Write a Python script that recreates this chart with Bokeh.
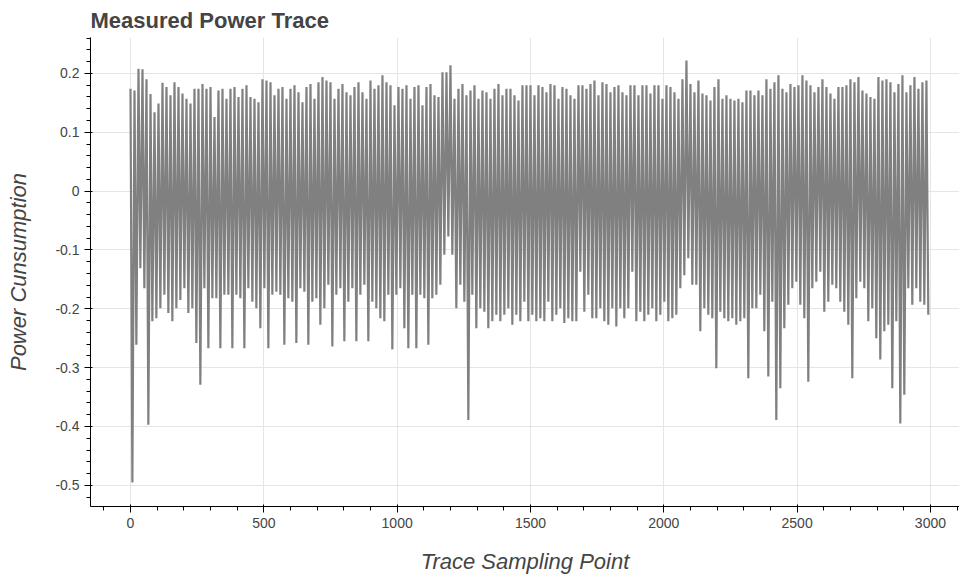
import numpy as np
from bokeh.plotting import figure
from bokeh.models import Range1d, NumeralTickFormatter
from bokeh.embed import file_html
from bokeh.resources import INLINE

# Envelope of the measured trace, read per block of 15 sampling points
block_size = 15
block_high = [
    0.174, 0.171, 0.208, 0.207, 0.190, 0.165, 0.134, 0.149, 0.184, 0.177,
    0.163, 0.185, 0.177, 0.166, 0.157, 0.149, 0.174, 0.174, 0.182, 0.174,
    0.177, 0.126, 0.171, 0.174, 0.157, 0.174, 0.177, 0.160, 0.174, 0.180,
    0.160, 0.157, 0.151, 0.190,
    0.188, 0.185, 0.163, 0.174, 0.177, 0.157, 0.174, 0.180, 0.168, 0.151,
    0.177, 0.182, 0.157, 0.185, 0.194, 0.188, 0.185, 0.157, 0.174, 0.182,
    0.168, 0.163, 0.177, 0.185, 0.168, 0.157, 0.188, 0.174, 0.180, 0.197,
    0.185, 0.180, 0.146, 0.177, 0.174,
    0.180, 0.157, 0.177, 0.180, 0.146, 0.177, 0.182, 0.163, 0.160, 0.202,
    0.202, 0.214, 0.157, 0.174, 0.182, 0.163, 0.171, 0.180, 0.157, 0.171,
    0.168, 0.157, 0.174, 0.182, 0.163, 0.174, 0.174, 0.163, 0.154, 0.180,
    0.180, 0.180, 0.163, 0.180, 0.177,
    0.168, 0.182, 0.180, 0.157, 0.177, 0.174, 0.163, 0.157, 0.180, 0.180,
    0.174, 0.182, 0.188, 0.163, 0.185, 0.182, 0.168, 0.177, 0.180, 0.168,
    0.163, 0.180, 0.180, 0.163, 0.180, 0.180, 0.166, 0.180, 0.180, 0.157,
    0.180, 0.177, 0.168, 0.157, 0.190,
    0.222, 0.182, 0.168, 0.188, 0.166, 0.163, 0.154, 0.177, 0.190, 0.157,
    0.163, 0.157, 0.154, 0.157, 0.151, 0.171, 0.171, 0.163, 0.171, 0.163,
    0.190, 0.174, 0.185, 0.197, 0.174, 0.168, 0.182, 0.177, 0.180, 0.197,
    0.188, 0.180, 0.168, 0.177, 0.190,
    0.177, 0.166, 0.157, 0.177, 0.177, 0.180, 0.190, 0.185, 0.194, 0.171,
    0.166, 0.160, 0.157, 0.194, 0.188, 0.190, 0.185, 0.168, 0.182, 0.197,
    0.168, 0.180, 0.194, 0.174, 0.185, 0.188,
]
block_low = [
    -0.495, -0.261, -0.131, -0.165, -0.397, -0.221, -0.216, -0.199, -0.176, -0.207,
    -0.221, -0.199, -0.185, -0.165, -0.207, -0.199, -0.258, -0.329, -0.165, -0.267,
    -0.182, -0.182, -0.267, -0.176, -0.176, -0.267, -0.176, -0.182, -0.267, -0.165,
    -0.188, -0.199, -0.233, -0.165,
    -0.267, -0.176, -0.171, -0.176, -0.261, -0.182, -0.188, -0.258, -0.165, -0.171,
    -0.261, -0.188, -0.182, -0.227, -0.199, -0.159, -0.264, -0.176, -0.165, -0.255,
    -0.188, -0.165, -0.255, -0.176, -0.159, -0.255, -0.188, -0.199, -0.216, -0.221,
    -0.176, -0.269, -0.176, -0.165, -0.233,
    -0.267, -0.176, -0.267, -0.176, -0.182, -0.261, -0.182, -0.176, -0.159, -0.108,
    -0.077, -0.108, -0.199, -0.159, -0.188, -0.389, -0.176, -0.233, -0.199, -0.205,
    -0.233, -0.221, -0.210, -0.221, -0.210, -0.199, -0.227, -0.210, -0.221, -0.188,
    -0.221, -0.210, -0.221, -0.216, -0.221,
    -0.188, -0.221, -0.210, -0.199, -0.224, -0.216, -0.221, -0.221, -0.137, -0.205,
    -0.176, -0.216, -0.216, -0.199, -0.221, -0.227, -0.199, -0.230, -0.199, -0.216,
    -0.199, -0.137, -0.221, -0.205, -0.221, -0.210, -0.199, -0.221, -0.210, -0.188,
    -0.221, -0.216, -0.210, -0.165, -0.143,
    -0.114, -0.159, -0.159, -0.238, -0.199, -0.210, -0.216, -0.301, -0.205, -0.216,
    -0.221, -0.216, -0.227, -0.221, -0.216, -0.318, -0.199, -0.199, -0.176, -0.238,
    -0.315, -0.188, -0.389, -0.335, -0.233, -0.193, -0.165, -0.154, -0.193, -0.216,
    -0.324, -0.165, -0.154, -0.137, -0.205,
    -0.188, -0.159, -0.165, -0.188, -0.205, -0.227, -0.318, -0.182, -0.154, -0.165,
    -0.221, -0.199, -0.250, -0.286, -0.238, -0.227, -0.335, -0.221, -0.395, -0.346,
    -0.165, -0.193, -0.165, -0.188, -0.193, -0.210,
]

title_text = "Measured Power Trace"
x_label = "Trace Sampling Point"
y_label = "Power Cunsumption"

# sampling-point index of each high / low reading
starts = np.arange(len(block_high)) * block_size
xs = np.empty(2 * len(starts))
ys = np.empty(2 * len(starts))
xs[0::2] = starts
xs[1::2] = starts + block_size // 2
ys[0::2] = block_high
ys[1::2] = block_low

p = figure(width=959, height=576, output_backend="svg", toolbar_location=None,
           title=title_text,
           x_range=Range1d(-150, 3109), y_range=Range1d(-0.536, 0.261),
           min_border_left=90, min_border_right=0, min_border_bottom=70,
           min_border_top=37)

p.line(xs, ys, line_color="#808080", line_width=2.2)

p.title.text_font_size = "22px"
p.title.text_font = "Liberation Sans"
p.title.text_color = "#444444"
p.xaxis.axis_label = x_label
p.yaxis.axis_label = y_label
for ax in (p.xaxis, p.yaxis):
    ax.axis_label_text_font_size = "22px"
    ax.axis_label_text_font = "Liberation Sans"
    ax.axis_label_text_font_style = "italic"
    ax.axis_label_text_color = "#444444"
    ax.major_label_text_font_size = "14px"
    ax.major_label_text_font = "Liberation Sans"
    ax.major_label_text_color = "#444444"
p.xaxis.axis_label_standoff = 18
p.yaxis.axis_label_standoff = 21
p.yaxis.formatter = NumeralTickFormatter(format="0.[0]")
p.outline_line_color = None

open("out.html", "w").write(file_html(p, INLINE))
